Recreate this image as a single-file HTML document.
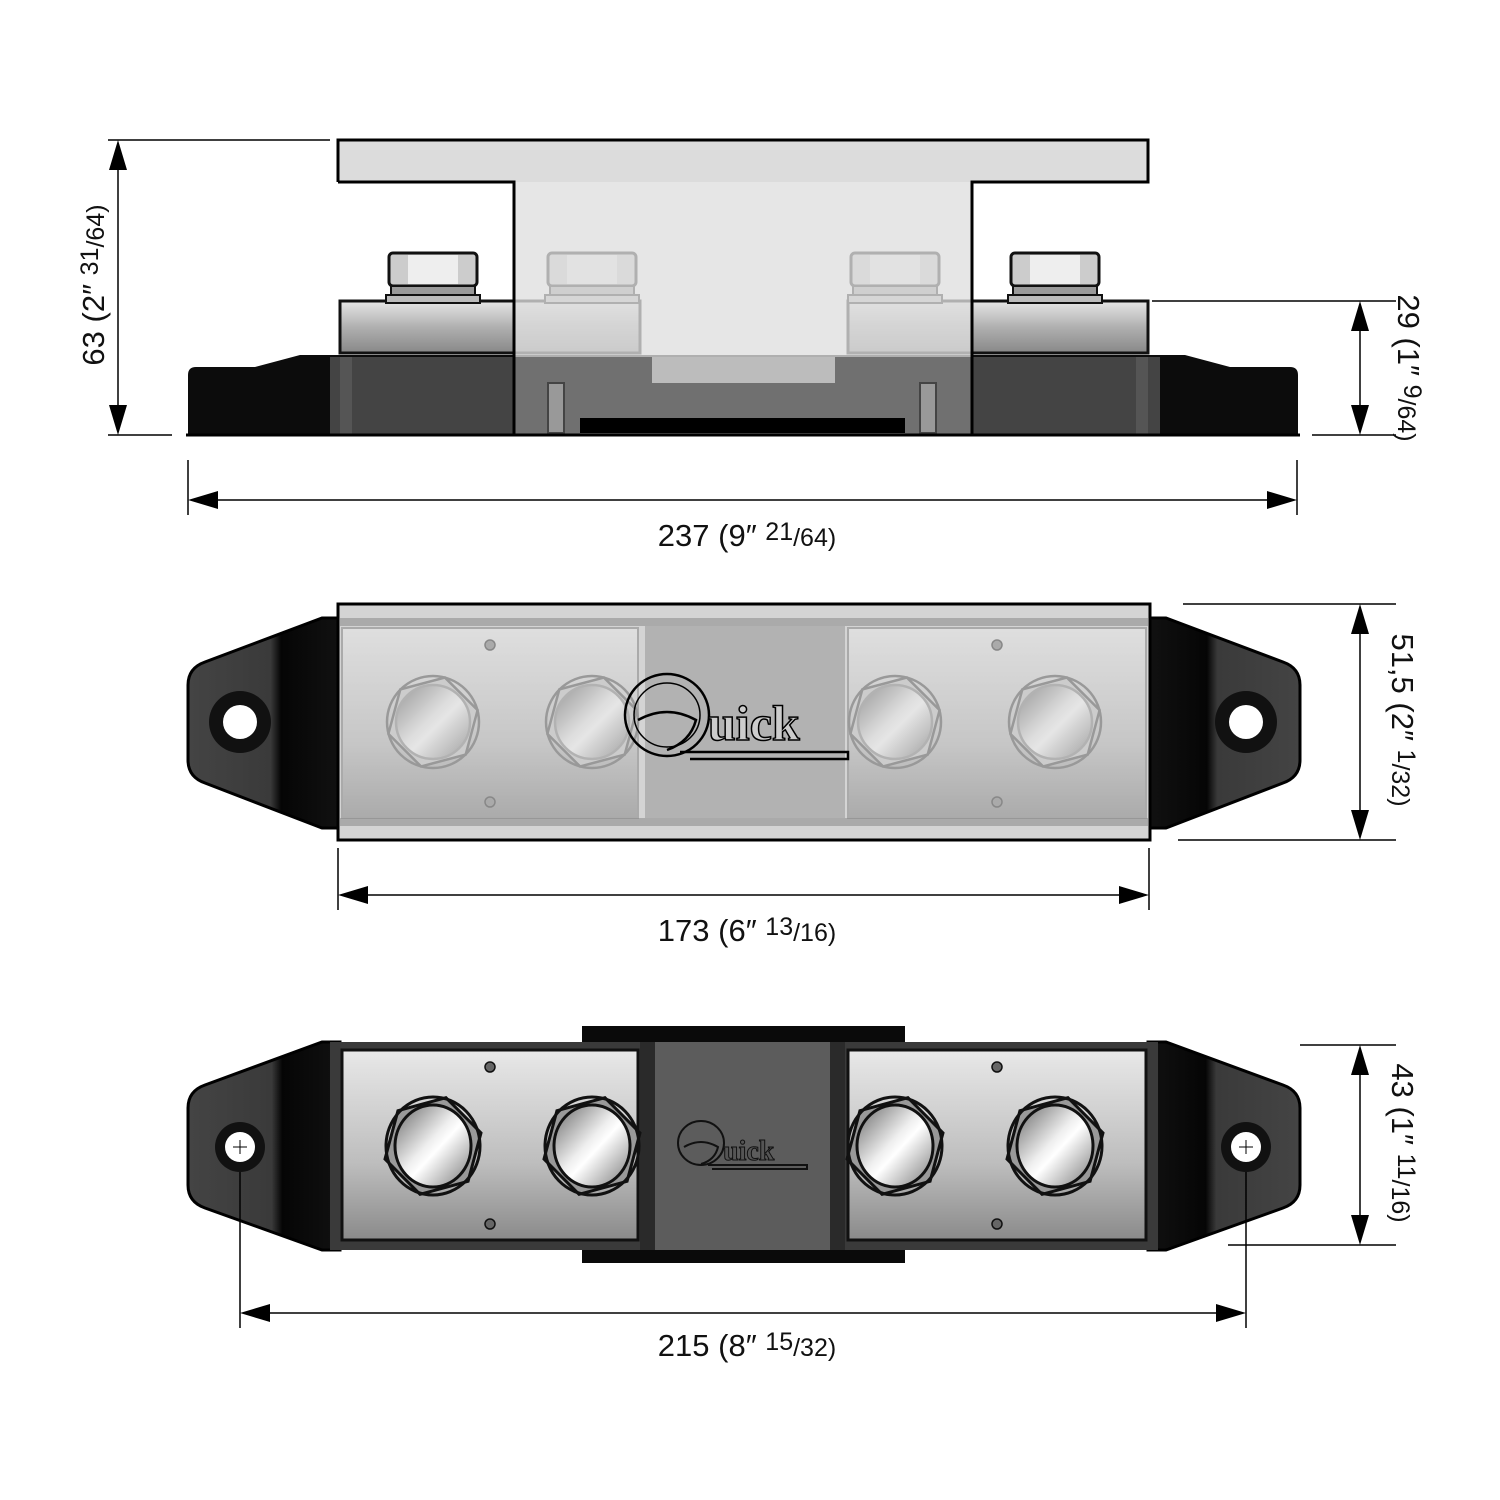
<!DOCTYPE html>
<html><head><meta charset="utf-8"><style>html,body{margin:0;padding:0;background:#fff}svg{display:block}.t{font-family:"Liberation Sans",sans-serif;fill:#111}</style></head>
<body>
<svg width="1500" height="1500" viewBox="0 0 1500 1500" xmlns="http://www.w3.org/2000/svg">
<defs>
<linearGradient id="bar" x1="0" y1="0" x2="0" y2="1"><stop offset="0" stop-color="#e6e6e6"/><stop offset="0.5" stop-color="#b0b0b0"/><stop offset="1" stop-color="#888"/></linearGradient>
<linearGradient id="barv" x1="0" y1="0" x2="0" y2="1"><stop offset="0" stop-color="#e8e8e8"/><stop offset="0.6" stop-color="#bdbdbd"/><stop offset="1" stop-color="#8a8a8a"/></linearGradient>
<linearGradient id="shine" x1="0" y1="0" x2="1" y2="1"><stop offset="0" stop-color="#666"/><stop offset="0.45" stop-color="#eee"/><stop offset="0.55" stop-color="#fff"/><stop offset="1" stop-color="#777"/></linearGradient>
<linearGradient id="tab" x1="0" y1="0" x2="1" y2="0"><stop offset="0" stop-color="#444"/><stop offset="0.55" stop-color="#3a3a3a"/><stop offset="0.62" stop-color="#050505"/><stop offset="1" stop-color="#111"/></linearGradient>
<linearGradient id="tabr" x1="1" y1="0" x2="0" y2="0"><stop offset="0" stop-color="#444"/><stop offset="0.55" stop-color="#3a3a3a"/><stop offset="0.62" stop-color="#050505"/><stop offset="1" stop-color="#111"/></linearGradient>
<g id="nutB">
<polygon points="0,-50 43,-25 43,25 0,50 -43,25 -43,-25" fill="#999" stroke="#111" stroke-width="3" transform="rotate(15)"/>
<ellipse cx="0" cy="0" rx="47" ry="49" fill="none" stroke="#111" stroke-width="3"/>
<ellipse cx="0" cy="0" rx="38" ry="41" fill="url(#shine)" stroke="#111" stroke-width="3"/>
</g>
<g id="nutM">
<polygon points="0,-46 40,-23 40,23 0,46 -40,23 -40,-23" fill="#ccc" stroke="#999" stroke-width="2.5" transform="rotate(15)"/>
<circle r="46" fill="none" stroke="#999" stroke-width="2.5"/>
<circle r="37" fill="url(#shine)" opacity="0.5" stroke="#999" stroke-width="2.5"/>
</g>
<g id="hexS">
<rect x="-44" y="0" width="88" height="33" rx="4" fill="#ccc" stroke="#111" stroke-width="3"/>
<rect x="-25" y="2" width="50" height="29" fill="#eee"/>
<rect x="-42" y="33" width="84" height="13" fill="#999" stroke="#111" stroke-width="2"/>
<rect x="-47" y="42" width="94" height="8" fill="#bbb" stroke="#111" stroke-width="2"/>
</g>
</defs>

<!-- ===== TOP (SIDE) VIEW ===== -->
<path d="M188,375 Q188,367 196,367 L255,367 L300,355 L1185,355 L1230,367 L1290,367 Q1298,367 1298,375 L1298,435 L188,435 Z" fill="#0c0c0c"/>
<rect x="330" y="357" width="830" height="78" fill="#444"/>
<rect x="340" y="357" width="12" height="78" fill="#555"/>
<rect x="1136" y="357" width="12" height="78" fill="#555"/>
<rect x="340" y="301" width="300" height="52" fill="url(#bar)" stroke="#111" stroke-width="3"/>
<rect x="848" y="301" width="300" height="52" fill="url(#bar)" stroke="#111" stroke-width="3"/>
<use href="#hexS" x="433" y="253"/>
<use href="#hexS" x="592" y="253"/>
<use href="#hexS" x="895" y="253"/>
<use href="#hexS" x="1055" y="253"/>
<path d="M514,182 L514,435 L972,435 L972,182 Z" fill="#e4e4e4" opacity="0.5"/>
<path d="M514,357 L652,357 L652,383 L835,383 L835,357 L972,357 L972,435 L514,435 Z" fill="#707070"/>
<path d="M514,182 L972,182 L972,357 L835,357 L835,383 L652,383 L652,357 L514,357 Z" fill="#dcdcdc" opacity="0.55"/>
<rect x="548" y="383" width="16" height="50" fill="#999" stroke="#444" stroke-width="2"/>
<rect x="920" y="383" width="16" height="50" fill="#999" stroke="#444" stroke-width="2"/>
<rect x="580" y="418" width="325" height="15" fill="#000"/>
<path d="M338,140 L1148,140 L1148,182 L972,182 L514,182 L338,182 Z" fill="#dcdcdc"/>
<path d="M338,182 L338,140 L1148,140 L1148,182 L972,182 L972,435 M514,435 L514,182 L338,182" fill="none" stroke="#000" stroke-width="3"/>
<line x1="186" y1="435" x2="1300" y2="435" stroke="#000" stroke-width="3"/>
<g stroke="#000" stroke-width="1.5">
<line x1="108" y1="140" x2="330" y2="140"/><line x1="108" y1="435" x2="172" y2="435"/>
<line x1="118" y1="150" x2="118" y2="425"/>
<line x1="1152" y1="301" x2="1396" y2="301"/><line x1="1312" y1="435" x2="1396" y2="435"/>
<line x1="1360" y1="311" x2="1360" y2="425"/>
<line x1="188" y1="460" x2="188" y2="515"/><line x1="1297" y1="460" x2="1297" y2="515"/>
<line x1="198" y1="500" x2="1287" y2="500"/>
</g>
<g fill="#000">
<polygon points="118,140 109,170 127,170"/><polygon points="118,435 109,405 127,405"/>
<polygon points="1360,301 1351,331 1369,331"/><polygon points="1360,435 1351,405 1369,405"/>
<polygon points="188,500 218,491 218,509"/><polygon points="1297,500 1267,491 1267,509"/>
</g>
<text class="t" transform="translate(104,285) rotate(-90)" text-anchor="middle" font-size="31">63 (2″ <tspan font-size="25" dy="-6">31</tspan><tspan font-size="25" dy="6">/64)</tspan></text>
<text class="t" transform="translate(1398,368) rotate(90)" text-anchor="middle" font-size="31">29 (1″ <tspan font-size="25" dy="-6">9</tspan><tspan font-size="25" dy="6">/64)</tspan></text>
<text class="t" x="747" y="546" text-anchor="middle" font-size="31">237 (9″ <tspan font-size="25" dy="-6">21</tspan><tspan font-size="25" dy="6">/64)</tspan></text>

<!-- ===== MIDDLE VIEW ===== -->
<path d="M338,618 L322,618 L205,662 Q188,668 188,685 L188,760 Q188,777 205,783 L322,828 L338,828 Z" fill="url(#tab)" stroke="#000" stroke-width="3"/>
<path d="M1150,618 L1166,618 L1283,662 Q1300,668 1300,685 L1300,760 Q1300,777 1283,783 L1166,828 L1150,828 Z" fill="url(#tabr)" stroke="#000" stroke-width="3"/>
<circle cx="240" cy="722" r="31" fill="#111"/><circle cx="240" cy="722" r="17" fill="#fff"/>
<circle cx="1246" cy="722" r="31" fill="#111"/><circle cx="1246" cy="722" r="17" fill="#fff"/>
<rect x="338" y="604" width="812" height="236" fill="#d4d4d4" stroke="#000" stroke-width="3"/>
<rect x="340" y="618" width="808" height="8" fill="#aaa"/>
<rect x="340" y="818" width="808" height="8" fill="#aaa"/>
<rect x="645" y="626" width="200" height="192" fill="#b2b2b2"/>
<rect x="342" y="628" width="296" height="190" fill="url(#barv)" opacity="0.55" stroke="#888" stroke-width="2"/>
<rect x="848" y="628" width="298" height="190" fill="url(#barv)" opacity="0.55" stroke="#888" stroke-width="2"/>
<g fill="#aaa" stroke="#888" stroke-width="1.5"><circle cx="490" cy="645" r="5"/><circle cx="490" cy="802" r="5"/><circle cx="997" cy="645" r="5"/><circle cx="997" cy="802" r="5"/></g>
<use href="#nutM" x="433" y="722"/><use href="#nutM" x="592" y="722"/><use href="#nutM" x="895" y="722"/><use href="#nutM" x="1055" y="722"/>
<g fill="none" stroke="#000" stroke-width="2.5">
<ellipse cx="667" cy="715" rx="42" ry="41"/>
<ellipse cx="667" cy="715" rx="33" ry="32" stroke-width="1.5"/>
<path d="M638,720 Q667,704 696,720 Q690,742 667,750"/>
<path d="M680,752 L848,752 L848,759 L690,759"/>
</g>
<text x="708" y="740" font-size="50" style="font-family:'Liberation Serif',serif;font-weight:bold;fill:#ccc;stroke:#000;stroke-width:1.5">uick</text>
<g stroke="#000" stroke-width="1.5">
<line x1="1183" y1="604" x2="1396" y2="604"/><line x1="1178" y1="840" x2="1396" y2="840"/>
<line x1="1360" y1="614" x2="1360" y2="830"/>
<line x1="338" y1="848" x2="338" y2="910"/><line x1="1149" y1="848" x2="1149" y2="910"/>
<line x1="348" y1="895" x2="1139" y2="895"/>
</g>
<g fill="#000">
<polygon points="1360,604 1351,634 1369,634"/><polygon points="1360,840 1351,810 1369,810"/>
<polygon points="338,895 368,886 368,904"/><polygon points="1149,895 1119,886 1119,904"/>
</g>
<text class="t" transform="translate(1392,720) rotate(90)" text-anchor="middle" font-size="31">51,5 (2″ <tspan font-size="25" dy="-6">1</tspan><tspan font-size="25" dy="6">/32)</tspan></text>
<text class="t" x="747" y="941" text-anchor="middle" font-size="31">173 (6″ <tspan font-size="25" dy="-6">13</tspan><tspan font-size="25" dy="6">/16)</tspan></text>

<!-- ===== BOTTOM VIEW ===== -->
<rect x="582" y="1026" width="323" height="237" fill="#0a0a0a"/>
<path d="M340,1042 L322,1042 L205,1085 Q188,1091 188,1108 L188,1185 Q188,1202 205,1208 L322,1250 L340,1250 Z" fill="url(#tab)" stroke="#000" stroke-width="3"/>
<path d="M1148,1042 L1166,1042 L1283,1085 Q1300,1091 1300,1108 L1300,1185 Q1300,1202 1283,1208 L1166,1250 L1148,1250 Z" fill="url(#tabr)" stroke="#000" stroke-width="3"/>
<rect x="330" y="1042" width="828" height="208" fill="#3a3a3a"/>
<rect x="655" y="1042" width="175" height="208" fill="#5c5c5c"/>
<rect x="640" y="1042" width="15" height="208" fill="#2a2a2a"/><rect x="830" y="1042" width="15" height="208" fill="#2a2a2a"/>
<rect x="342" y="1050" width="296" height="190" fill="url(#barv)" stroke="#111" stroke-width="3"/>
<rect x="848" y="1050" width="298" height="190" fill="url(#barv)" stroke="#111" stroke-width="3"/>
<g fill="#666" stroke="#111" stroke-width="1.5"><circle cx="490" cy="1067" r="5"/><circle cx="490" cy="1224" r="5"/><circle cx="997" cy="1067" r="5"/><circle cx="997" cy="1224" r="5"/></g>
<use href="#nutB" x="433" y="1146"/><use href="#nutB" x="592" y="1146"/><use href="#nutB" x="895" y="1146"/><use href="#nutB" x="1055" y="1146"/>
<circle cx="240" cy="1147" r="25" fill="#111"/><circle cx="240" cy="1147" r="15" fill="#fff"/>
<circle cx="1246" cy="1147" r="25" fill="#111"/><circle cx="1246" cy="1147" r="15" fill="#fff"/>
<g stroke="#000" stroke-width="1"><line x1="240" y1="1140" x2="240" y2="1154"/><line x1="233" y1="1147" x2="247" y2="1147"/><line x1="1246" y1="1140" x2="1246" y2="1154"/><line x1="1239" y1="1147" x2="1253" y2="1147"/></g>
<g fill="none" stroke="#111" stroke-width="2">
<ellipse cx="701" cy="1143" rx="23" ry="22"/>
<path d="M684,1147 Q701,1137 718,1147 Q715,1160 701,1164"/>
<path d="M708,1165 L807,1165 L807,1169 L712,1169"/>
</g>
<text x="723" y="1160" font-size="28" style="font-family:'Liberation Serif',serif;font-weight:bold;fill:#555;stroke:#111;stroke-width:1">uick</text>
<g stroke="#000" stroke-width="1.5">
<line x1="1300" y1="1045" x2="1396" y2="1045"/><line x1="1228" y1="1245" x2="1396" y2="1245"/>
<line x1="1360" y1="1055" x2="1360" y2="1235"/>
<line x1="240" y1="1172" x2="240" y2="1328"/><line x1="1246" y1="1172" x2="1246" y2="1328"/>
<line x1="250" y1="1313" x2="1236" y2="1313"/>
</g>
<g fill="#000">
<polygon points="1360,1045 1351,1075 1369,1075"/><polygon points="1360,1245 1351,1215 1369,1215"/>
<polygon points="240,1313 270,1304 270,1322"/><polygon points="1246,1313 1216,1304 1216,1322"/>
</g>
<text class="t" transform="translate(1392,1143) rotate(90)" text-anchor="middle" font-size="31">43 (1″ <tspan font-size="25" dy="-6">11</tspan><tspan font-size="25" dy="6">/16)</tspan></text>
<text class="t" x="747" y="1356" text-anchor="middle" font-size="31">215 (8″ <tspan font-size="25" dy="-6">15</tspan><tspan font-size="25" dy="6">/32)</tspan></text>
</svg>
</body></html>
